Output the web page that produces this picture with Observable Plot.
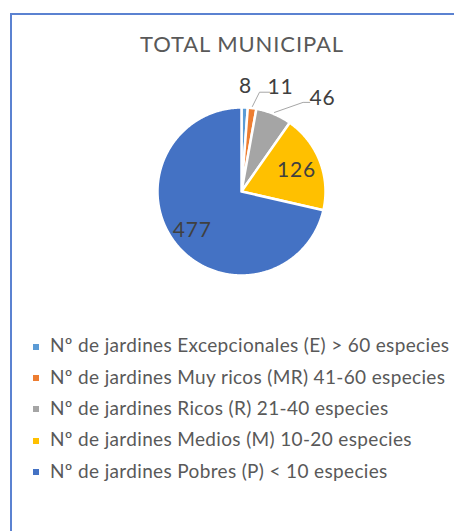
<!DOCTYPE html>
<html><head><meta charset="utf-8">
<script src="https://cdn.jsdelivr.net/npm/d3@7"></script>
<script src="https://cdn.jsdelivr.net/npm/@observablehq/plot@0.6"></script>
<style>
html,body{margin:0;padding:0;background:#fff;width:454px;height:531px;overflow:hidden;position:relative;}
#frame{position:absolute;left:10px;top:13px;width:480px;height:560px;border:2px solid #5b82d1;box-sizing:border-box;}
#chart{position:absolute;left:0;top:0;}
#title{position:absolute;left:0;width:484px;top:31.3px;text-align:center;font-family:Lato,sans-serif;font-size:22px;line-height:26.4px;letter-spacing:0.9px;color:#595959;white-space:nowrap;}
.row{position:absolute;left:50px;font-family:Lato,sans-serif;font-size:19px;line-height:22.8px;letter-spacing:0.35px;color:#595959;white-space:nowrap;}
.sw{position:absolute;left:33px;width:6px;height:6px;}
</style></head><body>
<div id="frame"></div>
<div id="chart"></div>
<div id="title">TOTAL MUNICIPAL</div>
<div id="legend"></div>
<script>
const categories = [
  "Nº de jardines Excepcionales (E) > 60 especies",
  "Nº de jardines Muy ricos (MR) 41-60 especies",
  "Nº de jardines Ricos (R) 21-40 especies",
  "Nº de jardines Medios (M) 10-20 especies",
  "Nº de jardines Pobres (P) < 10 especies"
];
const values = [8, 11, 46, 126, 477];
const colors = ["#5B9BD5", "#ED7D31", "#A5A5A5", "#FFC000", "#4472C4"];

// geometry (pixels of the page)
const W = 454, H = 300, cx = 241, cy = 191, R = 84;
// label placement: [polar angle (deg, null = slice middle), radius factor]
const labelPlace = [[null, 1.25], [20.5, 1.326], [41, 1.468], [null, 0.70], [null, 0.75]];

const total = d3.sum(values);
const slices = [];
let acc = 0;
values.forEach((v, i) => {
  const a0 = acc / total * 2 * Math.PI;
  acc += v;
  const a1 = acc / total * 2 * Math.PI;
  slices.push({i, a0, a1, mid: (a0 + a1) / 2});
});
const polys = [];
slices.forEach(s => {
  polys.push({k: categories[s.i], x: 0, y: 0});
  const n = Math.max(2, Math.ceil((s.a1 - s.a0) / (Math.PI / 360)));
  for (let j = 0; j <= n; j++) {
    const a = s.a0 + (s.a1 - s.a0) * j / n;
    polys.push({k: categories[s.i], x: Math.sin(a), y: Math.cos(a)});
  }
  polys.push({k: categories[s.i], x: 0, y: 0});
});
const labels = slices.map(s => {
  const [ang, r] = labelPlace[s.i];
  const a = ang == null ? s.mid : ang * Math.PI / 180;
  return {t: String(values[s.i]), x: r * Math.sin(a), y: r * Math.cos(a), i: s.i};
});
// elbow leader lines for the two small outside labels
const leaders = [];
[[1, -0.13, -0.06, 0.12], [2, -0.15, -0.047, 0.08]].forEach(([i, dx, dy, h]) => {
  const L = labels[i], s = slices[i];
  const sx = L.x + dx, sy = L.y + dy;
  leaders.push({k: i, x: sx, y: sy});
  leaders.push({k: i, x: sx - h, y: sy});
  leaders.push({k: i, x: 1.02 * Math.sin(s.mid), y: 1.02 * Math.cos(s.mid)});
});

const plot = Plot.plot({
  width: W, height: H,
  margin: 0,
  x: {domain: [-cx / R, (W - cx) / R], axis: null},
  y: {domain: [-(H - cy) / R, cy / R], axis: null},
  color: {domain: categories, range: colors},
  style: {background: "transparent", overflow: "visible"},
  marks: [
    Plot.line(polys, {x: "x", y: "y", z: "k", fill: "k", stroke: "white", strokeWidth: 2.5, strokeLinejoin: "round"}),
    Plot.line(leaders, {x: "x", y: "y", z: "k", stroke: "#a6a6a6", strokeWidth: 1}),
    Plot.text(labels, {x: "x", y: "y", text: "t", fill: "#404040", fontSize: 21, fontFamily: "Lato, sans-serif"})
  ]
});
plot.querySelectorAll("text").forEach(t => t.style.letterSpacing = "0.8px");
document.getElementById("chart").appendChild(plot);

const leg = document.getElementById("legend");
categories.forEach((c, i) => {
  const baseline = 353 + i * 31.4;
  const row = document.createElement("div");
  row.className = "row";
  row.style.top = (baseline - 18.75) + "px";
  row.textContent = c;
  leg.appendChild(row);
  const sw = document.createElement("div");
  sw.className = "sw";
  sw.style.top = (baseline - 9.5) + "px";
  sw.style.background = colors[i];
  leg.appendChild(sw);
});
</script>
</body></html>
